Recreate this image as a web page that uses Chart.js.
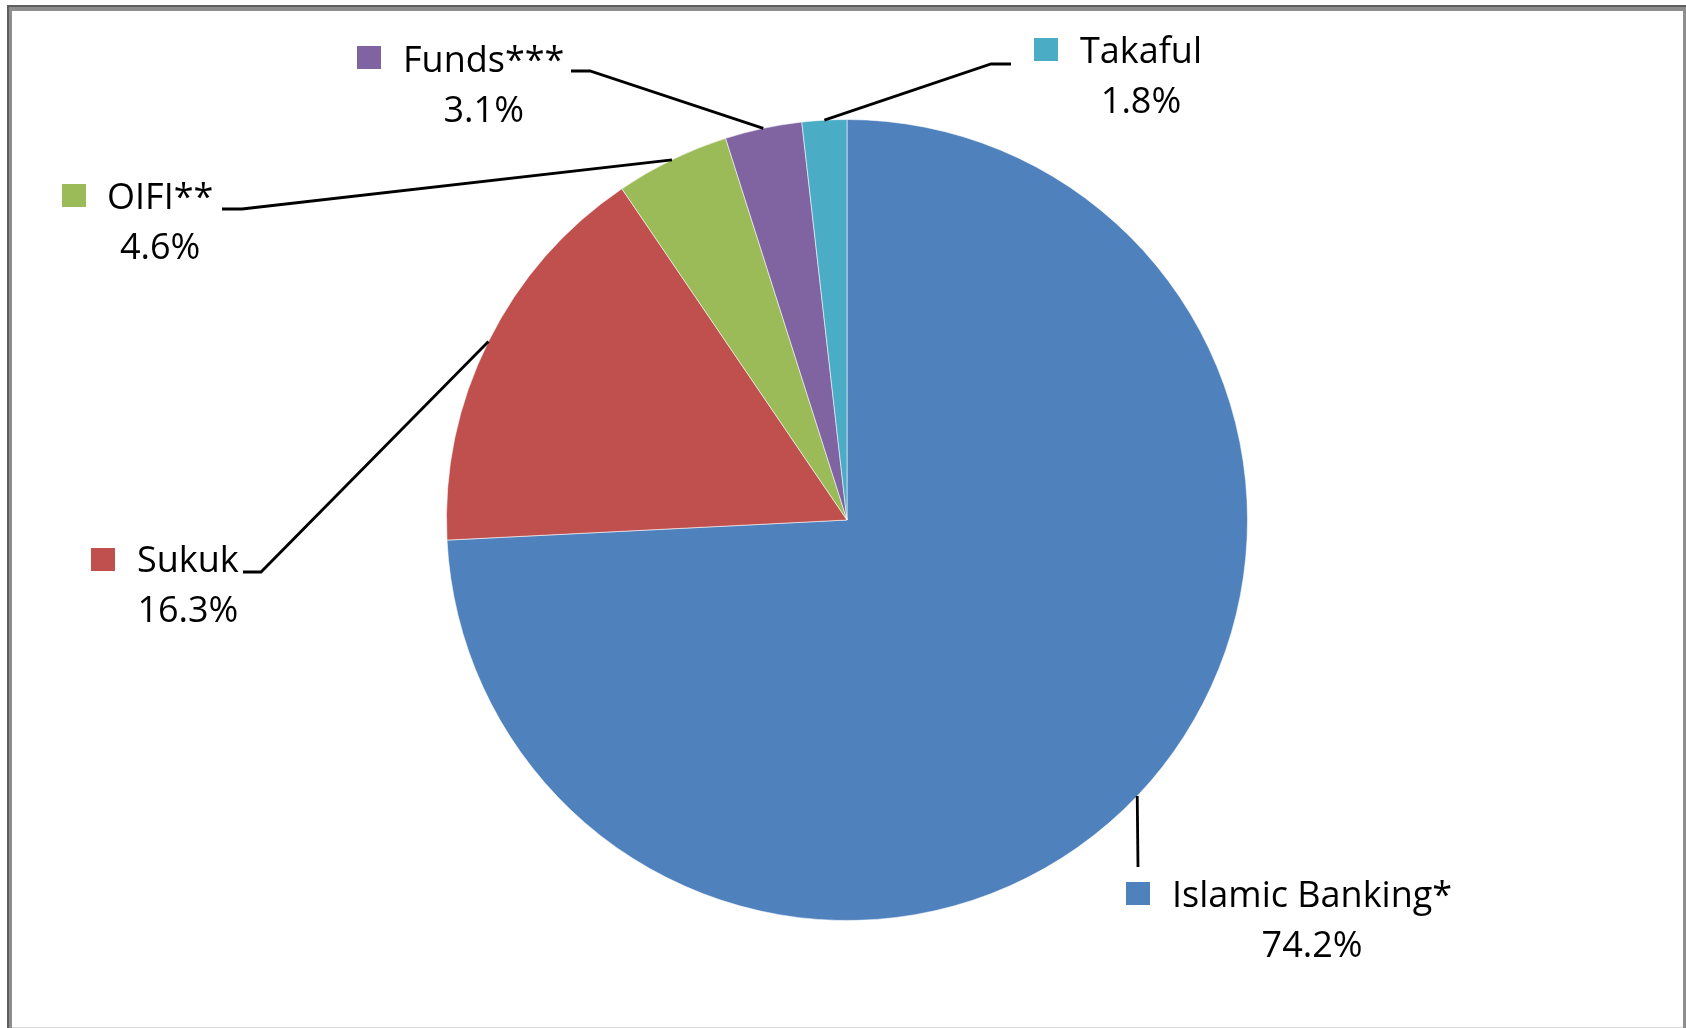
<!DOCTYPE html>
<html>
<head>
<meta charset="utf-8">
<script src="https://cdn.jsdelivr.net/npm/chart.js@4/dist/chart.umd.min.js"></script>
<style>
  html, body { margin: 0; padding: 0; background: #ffffff; }
  #wrap { position: relative; width: 1686px; height: 1028px; }
  canvas { display: block; }
</style>
</head>
<body>
<div id="wrap"><canvas id="c" width="1686" height="1028"></canvas></div>
<script>
// ---- Data ----
const categories = ['Islamic Banking*', 'Sukuk', 'OIFI**', 'Funds***', 'Takaful'];
const shares = [74.2, 16.3, 4.6, 3.1, 1.8];
const sliceColors = ['#4F81BD', '#C0504D', '#9BBB59', '#8064A2', '#4BACC6'];

// ---- Layout of the data labels (positions only) ----
const labelLayout = [
  { sq: [1126, 882], tx: 1172, base: 907, elbow: [[1138, 867]] },
  { sq: [91, 548],  tx: 137,  base: 572, elbow: [[261, 572], [243, 572]] },
  { sq: [62, 184],  tx: 107,  base: 209, elbow: [[242, 209], [222, 209]] },
  { sq: [357, 46],  tx: 403,  base: 72,  elbow: [[590, 71], [571, 71]] },
  { sq: [1034, 38], tx: 1080, base: 63,  elbow: [[991, 64], [1011, 64]] }
];
const FONT = '36px "Open Sans", Lato, sans-serif';

const framePlugin = {
  id: 'frame',
  beforeDraw(chart) {
    const ctx = chart.ctx;
    ctx.save();
    ctx.fillStyle = '#ffffff';
    ctx.fillRect(0, 0, chart.width, chart.height);
    ctx.fillStyle = '#5f5f5f';
    ctx.fillRect(7, 5, 2, 1023);
    ctx.fillRect(7, 5, 1679, 2);
    ctx.fillStyle = '#8e8e8e';
    ctx.fillRect(9, 7, 3, 1021);
    ctx.fillRect(9, 7, 1677, 4);
    ctx.fillRect(1683, 7, 3, 1021);
    ctx.fillStyle = '#d9d9d9';
    ctx.fillRect(12, 1027, 1671, 1);
    ctx.restore();
  }
};

const labelPlugin = {
  id: 'sliceLabels',
  afterDatasetsDraw(chart) {
    const ctx = chart.ctx;
    const meta = chart.getDatasetMeta(0);
    ctx.save();
    meta.data.forEach((arc, i) => {
      const L = labelLayout[i];
      const mid = (arc.startAngle + arc.endAngle) / 2;
      const px = arc.x + Math.cos(mid) * arc.outerRadius;
      const py = arc.y + Math.sin(mid) * arc.outerRadius;
      ctx.strokeStyle = '#000000';
      ctx.lineWidth = 2.8;
      ctx.lineJoin = 'miter';
      ctx.beginPath();
      ctx.moveTo(px, py);
      L.elbow.forEach(p => ctx.lineTo(p[0], p[1]));
      ctx.stroke();
      ctx.fillStyle = sliceColors[i];
      ctx.fillRect(L.sq[0], L.sq[1], 24, 23);
      ctx.font = FONT;
      ctx.fillStyle = '#000000';
      ctx.textBaseline = 'alphabetic';
      ctx.textAlign = 'left';
      const name = categories[i];
      const w = ctx.measureText(name).width;
      ctx.fillText(name, L.tx, L.base);
      ctx.textAlign = 'center';
      ctx.fillText(shares[i].toFixed(1) + '%', L.tx + w / 2, L.base + 50);
    });
    ctx.restore();
  }
};

new Chart(document.getElementById('c'), {
  type: 'pie',
  data: {
    labels: categories,
    datasets: [{
      data: shares,
      backgroundColor: sliceColors,
      borderColor: 'rgba(255,255,255,0.55)',
      borderWidth: 1,
      hoverOffset: 0
    }]
  },
  options: {
    responsive: false,
    devicePixelRatio: 1,
    animation: false,
    events: [],
    layout: { padding: { left: 446, right: 438, top: 119, bottom: 107 } },
    plugins: {
      legend: { display: false },
      tooltip: { enabled: false },
      title: { display: false }
    }
  },
  plugins: [framePlugin, labelPlugin]
});
</script>
</body>
</html>
